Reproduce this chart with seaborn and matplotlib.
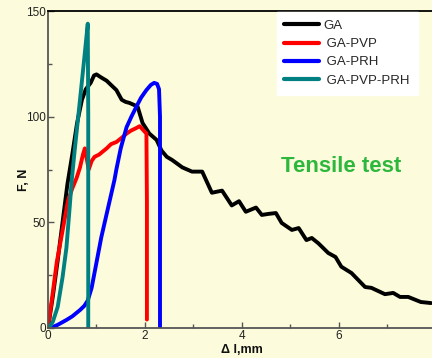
import matplotlib
matplotlib.use("Agg")
import matplotlib.pyplot as plt
import seaborn as sns
import pandas as pd
from matplotlib.ticker import MultipleLocator, AutoMinorLocator

# ---- data ----
ga_x = [0, 0.1, 0.2, 0.3, 0.4, 0.5, 0.6, 0.7, 0.78, 0.88, 0.95, 1.0, 1.1, 1.21, 1.3, 1.41,
        1.52, 1.6, 1.68, 1.78, 1.85, 1.95, 2.09, 2.24, 2.34, 2.45, 2.56, 2.77, 2.97, 3.18,
        3.3, 3.38, 3.59, 3.79, 3.94, 4.08, 4.29, 4.41, 4.55, 4.70, 4.82, 5.03, 5.17, 5.33,
        5.44, 5.58, 5.78, 5.93, 6.05, 6.26, 6.54, 6.67, 6.95, 7.12, 7.26, 7.43, 7.69, 7.9]
ga_y = [0, 15, 32, 50, 68, 82, 97, 108, 113, 116, 119.5, 120, 118.5, 117, 115, 112.6,
        108, 107, 106.5, 105.5, 104.6, 97, 92, 89, 84, 81, 79.5, 76, 74, 74,
        68, 64, 65, 58, 60, 55, 57, 53.5, 54, 54.4, 49.7, 46.4, 47.3, 41.6,
        42.6, 40, 35.5, 33.6, 29, 26, 19.4, 19, 16, 16.6, 14.7, 14.7, 12.3, 11.8]

pvp_x = [0, 0.1, 0.18, 0.3, 0.41, 0.5, 0.59, 0.66, 0.72, 0.76, 0.8, 0.84, 0.9, 0.96, 1.05,
         1.21, 1.3, 1.41, 1.52, 1.62, 1.72, 1.82, 1.89, 1.95, 2.03, 2.04, 2.04]
pvp_y = [0, 17, 31, 46, 60, 66, 71, 76, 82, 85, 80, 75, 79, 81, 82,
         85, 87, 88, 90, 92, 93.5, 94.6, 95.5, 94, 92, 60, 4]

prh_x = [0, 0.1, 0.2, 0.38, 0.5, 0.66, 0.75, 0.82, 0.9, 1.0, 1.1, 1.21, 1.3, 1.37, 1.41,
         1.5, 1.62, 1.72, 1.82, 1.92, 2.03, 2.12, 2.19, 2.25, 2.29, 2.31, 2.31]
prh_y = [0, 0.5, 1.5, 3.8, 5.5, 8.5, 10.5, 13, 19, 31, 43, 54, 63, 70, 75,
         85, 95, 100, 104.6, 109, 112.6, 115, 116, 115.5, 113, 100, 0]

pvpprh_x = [0.02, 0.1, 0.2, 0.3, 0.38, 0.45, 0.49, 0.55, 0.66, 0.75, 0.82, 0.83, 0.83]
pvpprh_y = [0, 3, 10, 24, 38, 58, 70, 84, 108, 128, 144, 100, 0]

labels = ["GA", " GA-PVP", " GA-PRH", " GA-PVP-PRH"]
colors = ["#000000", "#ff0000", "#0000ff", "#008080"]

frames = []
for lab, xs, ys in zip(labels, [ga_x, pvp_x, prh_x, pvpprh_x], [ga_y, pvp_y, prh_y, pvpprh_y]):
    frames.append(pd.DataFrame({"x": xs, "y": ys, "sample": lab, "order": range(len(xs))}))
df = pd.concat(frames, ignore_index=True)

sns.set_style("ticks")
plt.rcParams["font.family"] = ["Liberation Sans", "DejaVu Sans"]

bg = "#fcfcdc"
fig = plt.figure(figsize=(4.32, 3.58), dpi=100, facecolor=bg)
ax = fig.add_axes([48 / 432, 30 / 358, 384 / 432, 317 / 358])
ax.set_facecolor(bg)

sns.lineplot(data=df, x="x", y="y", hue="sample", units="sample", estimator=None,
             sort=False, palette=dict(zip(labels, colors)), hue_order=labels,
             linewidth=2.8, ax=ax, legend=True)

ax.set_xlim(0, 7.92)
ax.set_ylim(0, 150)
ax.xaxis.set_major_locator(MultipleLocator(2))
ax.xaxis.set_minor_locator(AutoMinorLocator(2))
ax.yaxis.set_major_locator(MultipleLocator(50))
ax.yaxis.set_minor_locator(AutoMinorLocator(2))
ax.tick_params(which="both", direction="in", colors="#555555", labelcolor="#222222",
               labelsize=8.5, pad=1.5)
ax.tick_params(which="major", length=4, width=1)
ax.tick_params(which="minor", length=3, width=1)

for s in ["left", "bottom"]:
    ax.spines[s].set_color("#555555")
    ax.spines[s].set_linewidth(1.3)
ax.spines["top"].set_visible(True)
ax.spines["top"].set_color("#000000")
ax.spines["top"].set_linewidth(1.3)
ax.spines["right"].set_visible(False)

ax.set_xlabel("Δ l,mm", fontsize=9, fontweight="bold", color="#111111")
ax.set_ylabel("F, N", fontsize=9, fontweight="bold", color="#111111")
ax.xaxis.set_label_coords(0.506, -0.052)
ax.yaxis.set_label_coords(-0.047, 0.467)

leg = ax.legend(loc="upper right", bbox_to_anchor=(0.963, 0.997), frameon=True,
                fancybox=False, facecolor="white", edgecolor="white", framealpha=1,
                fontsize=9.5, handlelength=2.6, handletextpad=0.35, labelspacing=0.45,
                borderpad=0.6, borderaxespad=0)
for line in leg.get_lines():
    line.set_linewidth(3)

ax.text(0.763, 0.508, "Tensile test", transform=ax.transAxes, ha="center", va="center",
        fontsize=16, fontweight="bold", color="#2db83d")

fig.savefig("out.png", dpi=100, facecolor=bg)
